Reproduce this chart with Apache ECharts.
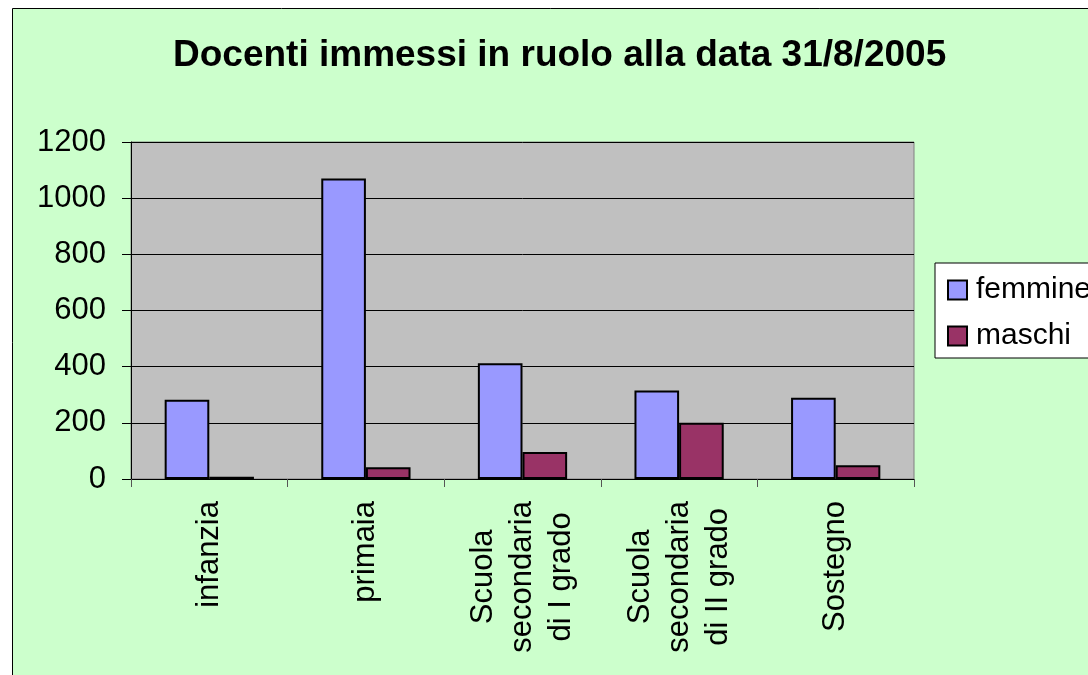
<!DOCTYPE html>
<html>
<head>
    <meta charset="utf-8">
    <title>Docenti immessi in ruolo</title>
    <script src="https://cdn.jsdelivr.net/npm/echarts@6/dist/echarts.min.js"></script>
    <style>
        html, body { margin: 0; padding: 0; background: #fff; }
    </style>
</head>
<body>
<div id="main" style="width: 1088px;height:675px;"></div>
<script type="text/javascript">

    /* dati ===================== */
    var categorie = ['infanzia', 'primaia', 'Scuola\nsecondaria\ndi I grado', 'Scuola\nsecondaria\ndi II grado', 'Sostegno'];
    var femmine = [282, 1070, 412, 315, 289];
    var maschi = [8, 42, 96, 200, 49];
    var yTicks = [0, 200, 400, 600, 800, 1000, 1200];

    var FONT = '"Liberation Sans", Arial, sans-serif';

    var myChart = echarts.init(document.getElementById('main'));

    myChart.setOption({
        backgroundColor: 'transparent',
        animation: false,
        textStyle: {fontFamily: FONT, color: '#000'},
        graphic: [
            {
                // cornice verde del grafico
                type: 'rect',
                z: -10,
                silent: true,
                shape: {x: 12.5, y: 8.5, width: 2000, height: 2000},
                style: {fill: '#CCFFCC', stroke: '#000', lineWidth: 1}
            }
        ],
        title: {
            text: 'Docenti immessi in ruolo alla data 31/8/2005',
            left: 173,
            top: 37,
            padding: 0,
            textStyle: {fontFamily: FONT, fontSize: 37, fontWeight: 'bold', color: '#000', lineHeight: 37}
        },
        legend: {
            data: ['femmine', 'maschi'],
            orient: 'vertical',
            left: 935,
            top: 263,
            padding: [12, 10, 7, 12],
            itemGap: 16,
            itemWidth: 19,
            itemHeight: 19,
            icon: 'rect',
            backgroundColor: '#fff',
            borderColor: '#000',
            borderWidth: 1,
            borderRadius: 0,
            textStyle: {fontFamily: FONT, fontSize: 30, color: '#000', padding: [0, 0, 0, 4]}
        },
        grid: {
            left: 131,
            right: 174,
            top: 142,
            bottom: 196,
            show: true,
            backgroundColor: '#C0C0C0',
            borderColor: '#808080',
            borderWidth: 1
        },
        xAxis: {
            type: 'category',
            data: categorie,
            axisLine: {lineStyle: {color: '#000', width: 1}},
            axisTick: {show: true, alignWithLabel: false, length: 8, lineStyle: {color: '#555'}},
            axisLabel: {
                rotate: 90,
                margin: 22,
                interval: 0,
                fontFamily: FONT,
                fontSize: 31,
                color: '#000',
                formatter: function (v) {
                    return v.split('\n').map(function (s) { return '{c|' + s + '}'; }).join('\n');
                },
                rich: {
                    c: {align: 'center', fontFamily: FONT, fontSize: 31, lineHeight: 39, color: '#000'}
                }
            }
        },
        yAxis: {
            type: 'value',
            min: yTicks[0],
            max: yTicks[yTicks.length - 1],
            interval: 200,
            axisLine: {show: true, lineStyle: {color: '#000', width: 1}},
            axisTick: {show: true, length: 9, lineStyle: {color: '#000'}},
            splitLine: {show: true, lineStyle: {color: '#000', width: 1}},
            axisLabel: {
                fontFamily: FONT, fontSize: 31, color: '#000', margin: 25,
                formatter: function (v) { return String(v); }
            }
        },
        series: [
            {
                name: 'femmine',
                type: 'bar',
                data: femmine,
                barGap: '0%',
                barCategoryGap: '43%',
                itemStyle: {color: '#9999FF', borderColor: '#000', borderWidth: 2}
            },
            {
                name: 'maschi',
                type: 'bar',
                data: maschi,
                barGap: '0%',
                barCategoryGap: '43%',
                itemStyle: {color: '#993366', borderColor: '#000', borderWidth: 2}
            }
        ]
    });

</script>
</body>
</html>
